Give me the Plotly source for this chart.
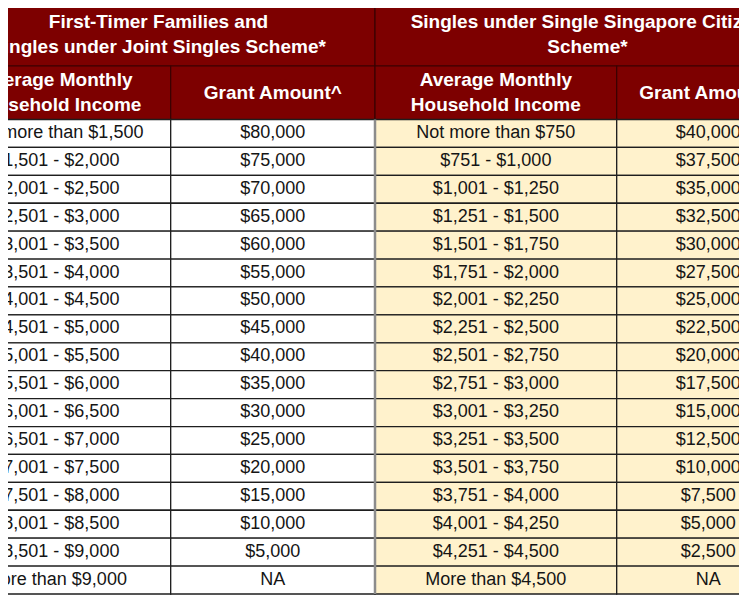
import plotly.graph_objects as go

# table content
group_titles = [
    "First-Timer Families and<br>Singles under Joint Singles Scheme*",
    "Singles under Single Singapore Citizen<br>Scheme*",
]
col_headers = [
    "Average Monthly<br>Household Income",
    "Grant Amount^",
    "Average Monthly<br>Household Income",
    "Grant Amount^",
]
joint_income = [
    "Not more than $1,500", "$1,501 - $2,000", "$2,001 - $2,500", "$2,501 - $3,000",
    "$3,001 - $3,500", "$3,501 - $4,000", "$4,001 - $4,500", "$4,501 - $5,000",
    "$5,001 - $5,500", "$5,501 - $6,000", "$6,001 - $6,500", "$6,501 - $7,000",
    "$7,001 - $7,500", "$7,501 - $8,000", "$8,001 - $8,500", "$8,501 - $9,000",
    "More than $9,000",
]
joint_grant = [
    "$80,000", "$75,000", "$70,000", "$65,000", "$60,000", "$55,000", "$50,000",
    "$45,000", "$40,000", "$35,000", "$30,000", "$25,000", "$20,000", "$15,000",
    "$10,000", "$5,000", "NA",
]
single_income = [
    "Not more than $750", "$751 - $1,000", "$1,001 - $1,250", "$1,251 - $1,500",
    "$1,501 - $1,750", "$1,751 - $2,000", "$2,001 - $2,250", "$2,251 - $2,500",
    "$2,501 - $2,750", "$2,751 - $3,000", "$3,001 - $3,250", "$3,251 - $3,500",
    "$3,501 - $3,750", "$3,751 - $4,000", "$4,001 - $4,250", "$4,251 - $4,500",
    "More than $4,500",
]
single_grant = [
    "$40,000", "$37,500", "$35,000", "$32,500", "$30,000", "$27,500", "$25,000",
    "$22,500", "$20,000", "$17,500", "$15,000", "$12,500", "$10,000", "$7,500",
    "$5,000", "$2,500", "NA",
]

# layout of the table (the picture is a crop, so the outer columns run off the page)
W, H = 747, 598
PAGE_MARGIN = 8  # default body margin of the html page
FIG_W, FIG_H = W - PAGE_MARGIN, H - PAGE_MARGIN
col_edges = [-58, 170.7, 375, 616.7, 800]
head_edges = [3, 66, 119.5]
table_bottom = 594

MAROON = "#7d0000"
CREAM = "#fff2cc"
FONT = "Liberation Sans, Arial, sans-serif"

columns = [joint_income, joint_grant, single_income, single_grant]
n = len(joint_income)
row_h = (table_bottom - head_edges[2]) / n
row_mid = [head_edges[2] + row_h * (i + 0.5) for i in range(n)]
col_mid = [(col_edges[i] + col_edges[i + 1]) / 2 for i in range(4)]
col_w = [col_edges[i + 1] - col_edges[i] for i in range(4)]

fig = go.Figure()

# header row 1: two merged group cells
g_left = [col_edges[0], col_edges[2]]
g_w = [col_edges[2] - col_edges[0], col_edges[4] - col_edges[2]]
h1_mid = (head_edges[0] + head_edges[1]) / 2
fig.add_trace(go.Bar(
    orientation="h", base=g_left, x=g_w, y=[h1_mid] * 2,
    width=head_edges[1] - head_edges[0],
    marker=dict(color=MAROON, line=dict(color="#3a0000", width=1.2)),
    hoverinfo="skip",
))
# header row 2
h2_mid = (head_edges[1] + head_edges[2]) / 2
fig.add_trace(go.Bar(
    orientation="h", base=col_edges[:4], x=col_w, y=[h2_mid] * 4,
    width=head_edges[2] - head_edges[1],
    marker=dict(color=MAROON, line=dict(color="#3a0000", width=1.2)),
    hoverinfo="skip",
))
# body cells
for i in range(4):
    fig.add_trace(go.Bar(
        orientation="h", base=[col_edges[i]] * n, x=[col_w[i]] * n, y=row_mid,
        width=row_h,
        marker=dict(color="white" if i < 2 else CREAM,
                    line=dict(color="#1e1e1e", width=1.3)),
        hoverinfo="skip",
    ))

# header texts
fig.add_trace(go.Scatter(
    x=[g_left[k] + g_w[k] / 2 for k in range(2)], y=[h1_mid + 1] * 2,
    text=group_titles, mode="text",
    textfont=dict(family=FONT, size=19, color="white", weight="bold"),
    hoverinfo="skip",
))
fig.add_trace(go.Scatter(
    x=col_mid, y=[h2_mid + 1] * 4, text=col_headers, mode="text",
    textfont=dict(family=FONT, size=19, color="white", weight="bold"),
    hoverinfo="skip",
))
# body texts
for i in range(4):
    fig.add_trace(go.Scatter(
        x=[col_mid[i]] * n, y=row_mid, text=columns[i], mode="text",
        textfont=dict(family=FONT, size=18, color="#151515"),
        hoverinfo="skip",
    ))

# grey separator between the two schemes in the body
fig.add_shape(type="line", x0=col_edges[2], x1=col_edges[2],
              y0=head_edges[2], y1=table_bottom,
              line=dict(color="#8c8c8c", width=2.5))

# the page puts the figure PAGE_MARGIN px in, so the axes start that far into the table
fig.update_layout(
    width=FIG_W, height=FIG_H,
    margin=dict(l=0, r=0, t=0, b=0),
    barmode="overlay",
    showlegend=False,
    plot_bgcolor="white", paper_bgcolor="white",
    xaxis=dict(range=[PAGE_MARGIN, PAGE_MARGIN + FIG_W], visible=False, fixedrange=True),
    yaxis=dict(range=[PAGE_MARGIN + FIG_H, PAGE_MARGIN], visible=False, fixedrange=True),
)

fig.write_html("out.html", config={"displayModeBar": False})
